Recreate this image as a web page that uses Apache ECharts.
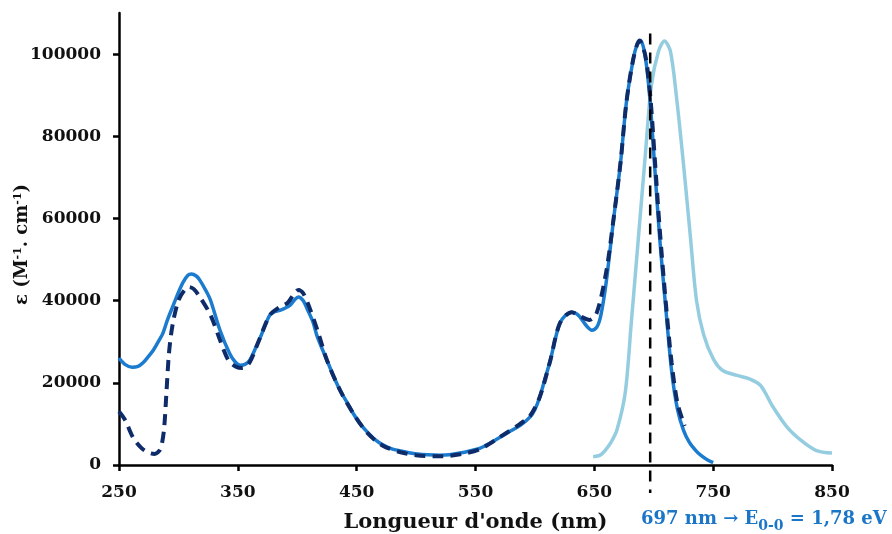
<!DOCTYPE html>
<html>
<head>
<meta charset="utf-8">
<script src="https://cdn.jsdelivr.net/npm/echarts@6/dist/echarts.min.js"></script>
<style>
html,body{margin:0;padding:0;background:#fff;}
#chart{width:892px;height:534px;}
</style>
</head>
<body>
<div id="chart"></div>
<script>
// absorption, solid line
let absWl  = [250,255,261,266,270,275,279,284,287,291,295,300,304,308,311,315,318,323,327,335,343,348,352,356,360,365,369,373,377,381,386,390,394,398,401,405,408,413,417,425,430,436,444,447,453,459,465,472,479,487,494,501,510,520,528,537,545,554,562,571,579,588,596,600,604,608,613,617,621,626,631,635,638,643,648,652,655,658,661,666,672,677,683,686,689,693,697,701,705,710,715,720,725,730,736,740,745,750];
let absVal = [26000,24500,23800,24000,24800,26500,28000,30500,32100,35500,38400,42000,44500,46200,46500,46000,45000,42500,40100,32800,27200,25000,24300,24500,25500,28500,31100,34000,36500,37300,37700,38200,38900,40300,40900,40000,38200,35000,31100,25500,22000,18200,14200,12600,10000,8000,6300,4900,4000,3400,3000,2700,2500,2400,2500,2900,3400,4100,5300,6800,8200,9700,11700,13500,16500,20500,25500,30500,34500,36500,37200,36800,36000,34000,32800,33500,35800,40500,46800,59300,73400,88300,99100,102300,103300,99100,88300,71700,55200,38600,23000,13500,8500,5500,3300,2300,1300,600];

// absorption, dashed line
let dashWl  = [250,255,262,269,275,280,284,286,288,290,292,295,300,305,309,313,318,327,335,342,348,354,360,368,377,385,392,397,401,405,410,417,425,436,447,459,472,487,500,520,537,554,571,587,596,604,613,621,631,638,646,652,660,666,672,677,683,688,693,697,701,705,710,715,720,726];
let dashVal = [13000,11000,6600,4100,3000,2700,3500,5000,9000,18000,27000,34000,40000,42500,43300,42800,40900,36500,30400,25500,24000,23600,25000,30500,36500,38400,39500,41500,42600,41800,38500,32800,25500,18200,12600,7800,4700,3100,2400,2100,2600,3900,6900,9900,12000,16500,25500,34500,37200,36200,35300,37000,47000,59500,73500,88300,99100,103300,99500,90000,74000,57500,40000,25000,15000,9500];

// emission
let emWl  = [649,655,659,664,669,676,681,687,693,698,704,709,714,719,725,731,736,742,750,758,770,781,790,800,812,824,837,850];
let emVal = [2000,2400,3500,5500,8500,17600,34300,55000,75800,92400,100700,103200,100700,89900,73300,55000,40000,31700,25900,23000,21800,20900,19300,14300,9300,6000,3500,2900];

// E0-0 marker
let e00Wl = 697;
let e00Span = [105000, -6800];

let xTicks = [250,350,450,550,650,750,850];
let yTicks = [0,20000,40000,60000,80000,100000];

let font = 'DejaVu Serif';

let pair = (xs, ys) => xs.map((x, i) => [x, ys[i]]);

let myChart = echarts.init(document.getElementById('chart'));
let option = {
    animation: false,
    backgroundColor: '#fff',
    title: {
        text: '{b|697 nm \u2192 E}{s|0-0}{b| = 1,78 eV}',
        left: 636,
        top: 505,
        textStyle: {
            rich: {
                b: {fontFamily: font, fontWeight: 'bold', fontSize: 18, color: '#1b76c8', lineHeight: 22, verticalAlign: 'top'},
                s: {fontFamily: font, fontWeight: 'bold', fontSize: 14, color: '#1b76c8', lineHeight: 14, verticalAlign: 'top', padding: [9, 0, 0, 0]}
            }
        }
    },
    grid: {
        left: 119,
        right: 60,
        top: 13,
        bottom: 69,
        containLabel: false,
        outerBoundsMode: 'none'
    },
    xAxis: {
        type: 'value',
        min: 250,
        max: 850,
        name: 'Longueur d\'onde (nm)',
        nameLocation: 'middle',
        nameGap: 47,
        nameMoveOverlap: false,
        nameTextStyle: {fontFamily: font, fontWeight: 'bold', fontSize: 21, color: '#111'},
        axisLine: {show: true, onZero: false, lineStyle: {color: '#000', width: 2.5}},
        axisTick: {show: true, length: 6, customValues: xTicks, lineStyle: {color: '#000', width: 2.5}},
        axisLabel: {customValues: xTicks, margin: 19, fontFamily: font, fontWeight: 'bold', fontSize: 17, color: '#111'},
        splitLine: {show: false}
    },
    yAxis: {
        type: 'value',
        min: 0,
        max: 110000,
        name: '{a|\u03b5 (M}{s|-1}{a|. cm}{s|-1}{a|)}',
        nameLocation: 'middle',
        nameGap: 84,
        nameRotate: 90,
        nameMoveOverlap: false,
        nameTextStyle: {
            padding: [0, 11, 0, 0],
            rich: {
                a: {fontFamily: font, fontWeight: 'bold', fontSize: 18, color: '#111', lineHeight: 22, verticalAlign: 'top'},
                s: {fontFamily: font, fontWeight: 'bold', fontSize: 11, color: '#111', lineHeight: 11, verticalAlign: 'top'}
            }
        },
        axisLine: {show: true, lineStyle: {color: '#000', width: 2.5}},
        axisTick: {show: true, length: 6, customValues: yTicks, lineStyle: {color: '#000', width: 2.5}},
        axisLabel: {
            customValues: yTicks,
            margin: 18,
            fontFamily: font,
            fontWeight: 'bold',
            fontSize: 17,
            color: '#111',
            formatter: v => String(v)
        },
        splitLine: {show: false}
    },
    series: [
        {
            name: 'emission',
            type: 'line',
            data: pair(emWl, emVal),
            showSymbol: false,
            smooth: 0.3,
            lineStyle: {color: '#95cde0', width: 3.5}
        },
        {
            name: 'abs',
            type: 'line',
            data: pair(absWl, absVal),
            showSymbol: false,
            smooth: 0.3,
            lineStyle: {color: '#1a7bcf', width: 3.5}
        },
        {
            name: 'abs2',
            type: 'line',
            data: pair(dashWl, dashVal),
            showSymbol: false,
            smooth: 0.3,
            lineStyle: {color: '#0e2c69', width: 4, type: [11, 7]}
        },
        {
            name: 'E00',
            type: 'line',
            data: e00Span.map(v => [e00Wl, v]),
            showSymbol: false,
            clip: false,
            lineStyle: {color: '#000', width: 2.5, type: [11, 8]}
        }
    ]
};
myChart.setOption(option);
</script>
</body>
</html>
